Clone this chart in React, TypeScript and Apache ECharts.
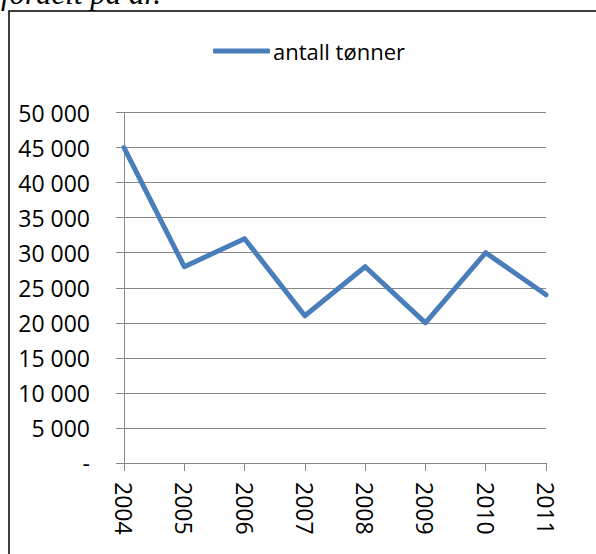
import React, { useEffect, useRef } from "react";
import * as echarts from "echarts";

const categories = ["2004", "2005", "2006", "2007", "2008", "2009", "2010", "2011"];
const tonnes = [45000, 28000, 32000, 21000, 28000, 20000, 30000, 24000];
const seriesName = "antall tønner";
const captionText = "fordelt på år.";

const fmt = (v: number) => (v === 0 ? "-" : String(v).replace(/\B(?=(\d{3})+(?!\d))/g, " "));

export default function App() {
  const ref = useRef<HTMLDivElement>(null);
  useEffect(() => {
    if (!ref.current) return;
    const chart = echarts.init(ref.current, null, { renderer: "svg" });
    const font = "'Open Sans', sans-serif";
    chart.setOption({
      animation: false,
      backgroundColor: "#fff",
      textStyle: { fontFamily: font },
      graphic: [
        {
          type: "rect",
          shape: { x: 9, y: 11, width: 700, height: 700 },
          style: { fill: "none", stroke: "#000", lineWidth: 1.5 },
        },
        {
          type: "text",
          x: 1,
          y: 9,
          style: {
            text: captionText,
            font: "italic 31px 'Liberation Serif', serif",
            fill: "#000",
            verticalAlign: "bottom",
          },
        },
      ],
      legend: {
        data: [{ name: seriesName, icon: "roundRect" }],
        left: 208,
        top: 35,
        itemWidth: 57,
        itemHeight: 5,
        itemStyle: { color: "#4A7EBB", borderWidth: 0 },
        textStyle: { fontSize: 22, color: "#000", fontFamily: font, padding: [0, 0, 0, -2] },
      },
      grid: { left: 124, right: 50, top: 112.5, bottom: 91, containLabel: false },
      xAxis: {
        type: "category",
        data: categories,
        boundaryGap: false,
        axisLine: { lineStyle: { color: "#878787", width: 1 } },
        axisTick: { show: true, length: 8, lineStyle: { color: "#878787" }, alignWithLabel: true },
        axisLabel: { rotate: -90, margin: 19, fontSize: 23, color: "#000", fontFamily: font },
        splitLine: { show: false },
      },
      yAxis: {
        type: "value",
        min: 0,
        max: 50000,
        interval: 5000,
        axisLine: { show: true, lineStyle: { color: "#878787", width: 1 } },
        axisTick: { show: true, length: 8, lineStyle: { color: "#878787" } },
        axisLabel: { margin: 34, fontSize: 23, color: "#000", fontFamily: font, formatter: fmt },
        splitLine: { show: true, lineStyle: { color: "#878787", width: 1 } },
      },
      series: [
        {
          name: seriesName,
          type: "line",
          data: tonnes,
          symbol: "none",
          lineStyle: { color: "#4A7EBB", width: 5, cap: "round", join: "round" },
          itemStyle: { color: "#4A7EBB" },
        },
      ],
    });
    return () => chart.dispose();
  }, []);
  return <div ref={ref} style={{ position: "absolute", left: 0, top: 0, width: 596, height: 554 }} />;
}
